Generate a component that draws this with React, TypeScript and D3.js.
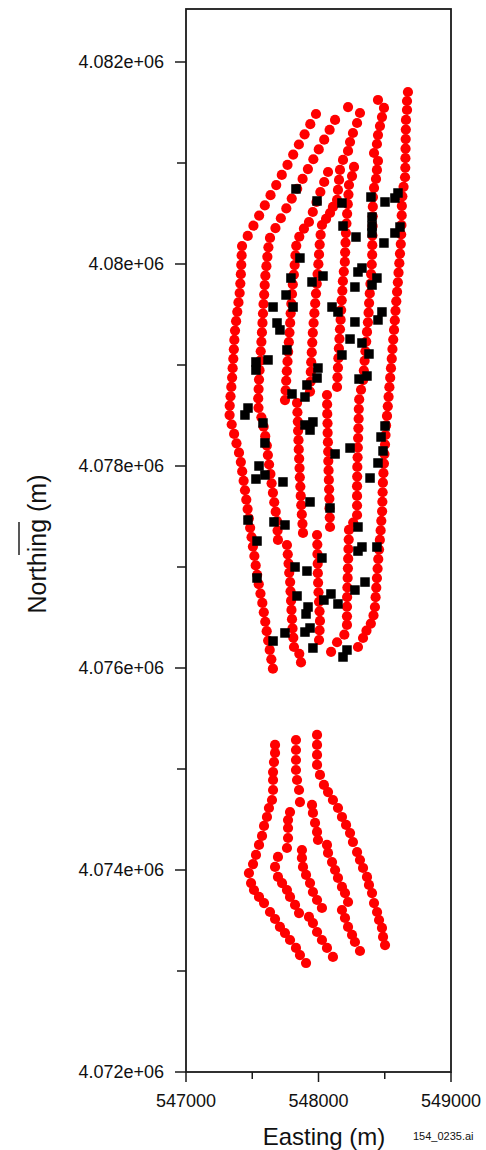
import React from "react";
import * as d3 from "d3";

type P = [number, number];

// x / y axis ticks
const xMajor = [547000, 548000, 549000];
const xMinor = [547500, 548500];
const xLabels = ["547000", "548000", "549000"];
const yMajor = [4072000, 4074000, 4076000, 4078000, 4080000, 4082000];
const yMinor = [4073000, 4075000, 4077000, 4079000, 4081000];
const yLabels = ["4.072e+06", "4.074e+06", "4.076e+06", "4.078e+06", "4.08e+06", "4.082e+06"];

// red survey tracks (easting m, northing m)
const track1: P[] = [[547981,4081485],[547938,4081384],[547895,4081284],[547852,4081183],[547809,4081083],[547766,4080982],[547723,4080882],[547681,4080781],[547638,4080681],[547595,4080580],[547552,4080479],[547509,4080379],[547466,4080278],[547423,4080178],[547420,4080085],[547417,4079992],[547414,4079899],[547410,4079806],[547405,4079713],[547396,4079620],[547387,4079527],[547378,4079434],[547370,4079341],[547365,4079248],[547361,4079155],[547357,4079062],[547352,4078969],[547348,4078876],[547342,4078783],[547336,4078690],[547330,4078597],[547329,4078504],[547345,4078411],[547363,4078318],[547381,4078225],[547400,4078132],[547414,4078039],[547424,4077946],[547435,4077853],[547445,4077760],[547455,4077667],[547465,4077574],[547474,4077481],[547484,4077388],[547495,4077295],[547505,4077202],[547516,4077109],[547526,4077016],[547537,4076923],[547549,4076830],[547562,4076737],[547576,4076644],[547587,4076551],[547598,4076458],[547609,4076365],[547620,4076272],[547632,4076179],[547644,4076086],[547656,4075993]];
const track2: P[] = [[548125,4081426],[548084,4081329],[548043,4081231],[548002,4081134],[547961,4081037],[547920,4080940],[547880,4080842],[547839,4080745],[547798,4080648],[547757,4080550],[547716,4080453],[547675,4080356],[547634,4080258],[547622,4080165],[547614,4080071],[547607,4079978],[547599,4079884],[547594,4079791],[547590,4079697],[547585,4079604],[547581,4079510],[547577,4079417],[547573,4079323],[547569,4079230],[547564,4079136],[547560,4079043],[547555,4078949],[547551,4078856],[547548,4078762],[547545,4078669],[547547,4078576],[547569,4078482],[547586,4078389],[547598,4078295],[547610,4078202],[547618,4078108],[547627,4078015],[547637,4077921],[547646,4077828],[547656,4077734],[547666,4077641],[547677,4077548],[547687,4077454],[547691,4077361],[547694,4077268]];
const track3: P[] = [[548072,4080911],[548043,4080812],[548014,4080713],[547985,4080614],[547957,4080515],[547928,4080416],[547890,4080350],[547855,4080270],[547832,4080180],[547826,4080085],[547820,4079989],[547814,4079894],[547806,4079798],[547800,4079703],[547795,4079607],[547790,4079512],[547786,4079417],[547781,4079321],[547776,4079226],[547771,4079130],[547766,4079035],[547761,4078939],[547756,4078844],[547752,4078748],[547747,4078653]];
const track4: P[] = [[548223,4081554],[548313,4081495],[548291,4081396],[548260,4081297],[548238,4081208],[548223,4081119],[548185,4081030],[548162,4080931],[548155,4080832],[548147,4080733],[548140,4080634],[548109,4080565],[548087,4080505],[548057,4080446],[548026,4080386],[548016,4080289],[548009,4080192],[548004,4080095],[547999,4079998],[547993,4079901],[547987,4079804],[547981,4079707],[547975,4079610],[547969,4079513],[547963,4079416],[547957,4079319],[547953,4079222],[547949,4079125],[547945,4079028],[547942,4078931],[547940,4078834],[547936,4078737]];
const track5: P[] = [[548268,4080961],[548253,4080871],[548230,4080782],[548226,4080687],[548221,4080592],[548216,4080497],[548211,4080401],[548207,4080306],[548204,4080211],[548201,4080116],[548199,4080021],[548191,4079925],[548184,4079830],[548180,4079735],[548175,4079640],[548171,4079544],[548167,4079449],[548162,4079354],[548158,4079259],[548154,4079164],[548150,4079068],[548147,4078973],[548143,4078878],[548140,4078782]];
const track6: P[] = [[548449,4081624],[548494,4081545],[548479,4081455],[548464,4081366],[548449,4081277],[548441,4081188],[548419,4081099],[548449,4081020],[548441,4080931],[548434,4080842],[548419,4080753],[548411,4080663],[548410,4080568],[548409,4080472],[548408,4080377],[548407,4080281],[548406,4080186],[548405,4080091],[548402,4079995],[548397,4079900],[548392,4079804],[548387,4079709],[548382,4079613],[548378,4079518],[548373,4079423],[548366,4079327],[548360,4079232],[548354,4079136],[548348,4079041],[548342,4078945],[548336,4078850],[548321,4078755],[548307,4078659],[548304,4078564],[548303,4078468],[548301,4078373],[548299,4078277],[548297,4078182],[548295,4078086],[548293,4077991],[548292,4077895],[548291,4077800],[548291,4077704],[548291,4077609],[548291,4077515],[548262,4077440],[548230,4077367],[548228,4077272],[548226,4077177],[548224,4077082],[548222,4076987],[548220,4076892],[548218,4076797],[548216,4076702],[548215,4076607],[548215,4076512],[548215,4076426],[548195,4076330],[548140,4076255],[548095,4076160]];
const track7: P[] = [[548675,4081703],[548668,4081614],[548668,4081525],[548660,4081426],[548659,4081331],[548658,4081237],[548657,4081142],[548656,4081048],[548655,4080953],[548653,4080859],[548642,4080764],[548633,4080670],[548629,4080575],[548628,4080481],[548626,4080386],[548624,4080292],[548621,4080197],[548615,4080103],[548610,4080008],[548604,4079914],[548599,4079819],[548593,4079725],[548587,4079630],[548581,4079536],[548576,4079441],[548570,4079347],[548564,4079252],[548558,4079158],[548553,4079063],[548547,4078969],[548541,4078874],[548535,4078780],[548529,4078685],[548523,4078591],[548517,4078496],[548510,4078402],[548506,4078307],[548502,4078213],[548498,4078118],[548494,4078024],[548490,4077929],[548486,4077835],[548484,4077740],[548482,4077646],[548480,4077551],[548474,4077457],[548469,4077362],[548463,4077268],[548457,4077173],[548451,4077079],[548446,4076984],[548441,4076890],[548436,4076795],[548431,4076701],[548426,4076604],[548415,4076520],[548395,4076440],[548362,4076370],[548336,4076297],[548298,4076208]];
const track8: P[] = [[547838,4078624],[547841,4078532],[547844,4078440],[547846,4078348],[547849,4078256],[547851,4078164],[547854,4078072],[547857,4077980],[547859,4077888],[547863,4077796],[547866,4077704],[547870,4077612],[547874,4077520],[547879,4077428],[547883,4077337]];
const track9: P[] = [[548064,4078703],[548065,4078610],[548066,4078516],[548068,4078423],[548069,4078329],[548071,4078236],[548073,4078143],[548074,4078049],[548076,4077956],[548078,4077862],[548080,4077769],[548082,4077676],[548083,4077582],[548085,4077489],[548087,4077396]];
const track10: P[] = [[547762,4077218],[547768,4077126],[547774,4077034],[547779,4076943],[547786,4076851],[547789,4076759],[547793,4076667],[547796,4076575],[547800,4076483],[547804,4076392],[547810,4076300],[547815,4076208],[547855,4076140],[547868,4076055]];
const track11: P[] = [[547989,4077317],[547991,4077222],[547992,4077128],[547994,4077033],[547995,4076939],[547997,4076844],[548000,4076750],[548004,4076655],[548008,4076561],[548011,4076466],[548008,4076372],[548004,4076277]];
const lower1: P[] = [[547672,4075238],[547672,4075159],[547664,4075069],[547657,4074970],[547657,4074891],[547657,4074792],[547649,4074693],[547626,4074614],[547611,4074525],[547589,4074436],[547574,4074337],[547551,4074248],[547528,4074149],[547506,4074059],[547475,4073970],[547491,4073871],[547513,4073802],[547551,4073733],[547589,4073673],[547634,4073584],[547672,4073515],[547709,4073436],[547747,4073376],[547785,4073307],[547830,4073228],[547860,4073158],[547906,4073079]];
const lower2: P[] = [[547830,4075287],[547830,4075188],[547830,4075089],[547830,4074990],[547838,4074891],[547853,4074792],[547860,4074673]];
const lower3: P[] = [[547989,4075337],[547989,4075238],[547989,4075139],[547989,4075040],[548011,4074941],[548041,4074842],[548072,4074772],[548109,4074693],[548147,4074614],[548177,4074525],[548208,4074446],[548238,4074366],[548260,4074277],[548291,4074178],[548313,4074099],[548336,4074020],[548366,4073931],[548381,4073852],[548404,4073772],[548419,4073673],[548442,4073584],[548457,4073505],[548479,4073426],[548487,4073337],[548502,4073257]];
const lower4: P[] = [[547785,4074574],[547770,4074495],[547770,4074416],[547770,4074317],[547762,4074218]];
const lower5: P[] = [[547951,4074644],[547958,4074565],[547974,4074466],[547989,4074377],[547996,4074297],[548064,4074248],[548072,4074169],[548102,4074079],[548125,4074000],[548147,4073921],[548177,4073832],[548200,4073772],[548223,4073683]];
const lower6: P[] = [[547694,4074129],[547672,4074030],[547694,4073931],[547725,4073871],[547762,4073802],[547785,4073733],[547823,4073654],[547853,4073574]];
const lower7: P[] = [[547875,4074198],[547875,4074119],[547883,4074030],[547906,4073951],[547936,4073871],[547958,4073782],[547989,4073703],[548026,4073624]];
const lower8: P[] = [[547928,4073535],[547958,4073475],[547989,4073386],[548026,4073307],[548064,4073228],[548109,4073139]];
const lower9: P[] = [[548177,4073604],[548200,4073525],[548223,4073436],[548253,4073357],[548275,4073287],[548313,4073198]];

// black square samples
const samples: P[] = [[547830,4080743],[547989,4080624],[548177,4080604],[548396,4080663],[548502,4080614],[548600,4080703],[548577,4080653],[548185,4080376],[548283,4080267],[548404,4080465],[548404,4080376],[548404,4080307],[548494,4080208],[548615,4080366],[548577,4080307],[547860,4080059],[547792,4079861],[548034,4079881],[547951,4079822],[548328,4079960],[548298,4079921],[548441,4079861],[548404,4079792],[548275,4079772],[547755,4079693],[547657,4079574],[547808,4079574],[548102,4079574],[548147,4079525],[548479,4079525],[548449,4079446],[548275,4079426],[547687,4079416],[547709,4079347],[548238,4079257],[548328,4079218],[547762,4079149],[548177,4079099],[548381,4079109],[547528,4079030],[547528,4078950],[547619,4079050],[547996,4078970],[547989,4078871],[548306,4078861],[548366,4078891],[547913,4078802],[547800,4078713],[547898,4078683],[547468,4078574],[547445,4078505],[547581,4078426],[547958,4078436],[547898,4078406],[547936,4078356],[548502,4078396],[548472,4078287],[547596,4078228],[548487,4078149],[548238,4078178],[548125,4078119],[547551,4078000],[548449,4078030],[547596,4077911],[547528,4077871],[547732,4077842],[548389,4077881],[547936,4077644],[548087,4077584],[547468,4077465],[547664,4077446],[547747,4077416],[548298,4077396],[547536,4077257],[548328,4077198],[548298,4077158],[548441,4077198],[548026,4077089],[547823,4077000],[547913,4076960],[547536,4076891],[548351,4076851],[548275,4076772],[547838,4076713],[548041,4076673],[548094,4076733],[548147,4076634],[547921,4076604],[547906,4076535],[547936,4076396],[547898,4076356],[547747,4076347],[547657,4076267],[547958,4076198],[548215,4076178],[548185,4076109]];

const tracks: P[][] = [track1, track2, track3, track4, track5, track6, track7, track8, track9, track10, track11, lower1, lower2, lower3, lower4, lower5, lower6, lower7, lower8, lower9];

const FONT = "'Liberation Sans', Arial, Helvetica, sans-serif";

export default function App() {
  const left = 186, right = 451, top = 9, bottom = 1072;
  const x = d3.scaleLinear().domain([547000, 549000]).range([left, right]);
  const y = d3.scaleLinear().domain([4072000, 4082000]).range([bottom, 62]);
  const sq = 9.5;
  const r = 5.1;
  const dots = tracks.flat();

  return (
    <svg
      width={486}
      height={1150}
      style={{ position: "absolute", left: 0, top: 0, background: "#fff" }}
      fontFamily={FONT}
    >
      <rect x={0} y={0} width={486} height={1150} fill="#fff" />
      {/* red track points */}
      <g fill="#ff0000">
        {dots.map((d, i) => (
          <circle key={i} cx={x(d[0])} cy={y(d[1])} r={r} />
        ))}
      </g>
      {/* black sample squares */}
      <g fill="#000">
        {samples.map((d, i) => (
          <rect key={i} x={x(d[0]) - sq / 2} y={y(d[1]) - sq / 2} width={sq} height={sq} />
        ))}
      </g>
      {/* frame */}
      <rect x={left} y={top} width={right - left} height={bottom - top} fill="none" stroke="#1a1a1a" strokeWidth={1.8} />
      {/* ticks */}
      <g stroke="#1a1a1a" strokeWidth={1.5}>
        {yMajor.map((v) => (
          <line key={"ym" + v} x1={left - 11} x2={left} y1={y(v)} y2={y(v)} />
        ))}
        {yMinor.map((v) => (
          <line key={"yn" + v} x1={left - 9} x2={left} y1={y(v)} y2={y(v)} />
        ))}
        {xMajor.map((v) => (
          <line key={"xm" + v} x1={x(v)} x2={x(v)} y1={bottom} y2={bottom + 10} />
        ))}
        {xMinor.map((v) => (
          <line key={"xn" + v} x1={x(v)} x2={x(v)} y1={bottom} y2={bottom + 7} />
        ))}
      </g>
      <g fontSize={18} fill="#111">
        {yMajor.map((v, i) => (
          <text key={"yl" + v} x={164} y={y(v)} dy="0.36em" textAnchor="end">
            {yLabels[i]}
          </text>
        ))}
        {xMajor.map((v, i) => (
          <text key={"xl" + v} x={x(v)} y={1107} textAnchor="middle">
            {xLabels[i]}
          </text>
        ))}
      </g>
      <text x={324} y={1145} fontSize={24} textAnchor="middle" fill="#111">
        Easting (m)
      </text>
      <text
        transform={`translate(46,544) rotate(-90)`}
        fontSize={25}
        textAnchor="middle"
        fill="#111"
      >
        Northing (m)
      </text>
      <line x1={19} x2={19} y1={522} y2={555} stroke="#111" strokeWidth={1.4} />
      <text x={413} y={1140} fontSize={11} fill="#111">
        154_0235.ai
      </text>
    </svg>
  );
}
